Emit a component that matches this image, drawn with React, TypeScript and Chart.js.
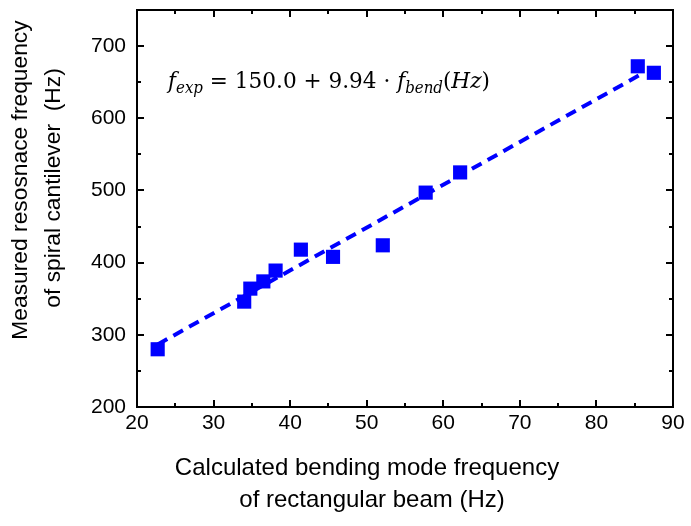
import React, { useEffect, useRef } from 'react';
import { Chart, registerables } from 'chart.js';

Chart.register(...registerables);

// Data
const bendFreq = [22.7, 34.0, 34.8, 36.5, 38.1, 41.4, 45.6, 52.1, 57.7, 62.2, 85.4, 87.5];
const measuredFreq = [280, 346, 364, 374, 389, 418, 408, 424, 497, 525, 672, 663];
const fitX = [22.7, 86.0];
const fitY = [286.7, 662];

const xTicks = [20, 30, 40, 50, 60, 70, 80, 90];
const xMinorTicks = [25, 35, 45, 55, 65, 75, 85];
const yTicks = [200, 300, 400, 500, 600, 700];
const yMinorTicks = [250, 350, 450, 550, 650];

const xTitle = ['Calculated bending mode frequency', 'of rectangular beam (Hz)'];
const yTitle = ['Measured resosnace frequency', 'of spiral cantilever  (Hz)'];

const BLUE = '#0000ff';
const SANS = '"Liberation Sans", Arial, sans-serif';
const SERIF = '"DejaVu Serif", "Liberation Serif", serif';

const decorPlugin = {
  id: 'decor',
  afterDraw(chart: any) {
    const ctx = chart.ctx as CanvasRenderingContext2D;
    const { left, right, top, bottom } = chart.chartArea;
    const xs = chart.scales.x;
    const ys = chart.scales.y;
    ctx.save();
    ctx.strokeStyle = '#000';
    ctx.lineWidth = 2;
    ctx.strokeRect(left, top, right - left, bottom - top);
    const major = 7;
    const minor = 4;
    ctx.beginPath();
    const xt = (vals: number[], len: number) => {
      vals.forEach((v) => {
        const px = Math.round(xs.getPixelForValue(v));
        ctx.moveTo(px, bottom);
        ctx.lineTo(px, bottom - len);
        ctx.moveTo(px, top);
        ctx.lineTo(px, top + len);
      });
    };
    const yt = (vals: number[], len: number) => {
      vals.forEach((v) => {
        const py = Math.round(ys.getPixelForValue(v));
        ctx.moveTo(left, py);
        ctx.lineTo(left + len, py);
        ctx.moveTo(right, py);
        ctx.lineTo(right - len, py);
      });
    };
    xt(xTicks, major);
    xt(xMinorTicks, minor);
    yt(yTicks, major);
    yt(yMinorTicks, minor);
    ctx.stroke();

    // axis titles
    ctx.fillStyle = '#000';
    ctx.textAlign = 'center';
    ctx.textBaseline = 'alphabetic';
    ctx.font = `24px ${SANS}`;
    ctx.fillText(xTitle[0], 367, 475);
    ctx.fillText(xTitle[1], 372, 507);

    ctx.font = `22.8px ${SANS}`;
    ctx.save();
    ctx.translate(27, 180);
    ctx.rotate(-Math.PI / 2);
    ctx.fillText(yTitle[0], 0, 0);
    ctx.restore();
    ctx.save();
    ctx.translate(60, 188);
    ctx.rotate(-Math.PI / 2);
    ctx.fillText(yTitle[1], 0, 0);
    ctx.restore();

    // equation
    const big = 23;
    const small = 16;
    const pieces = [
      { t: 'f', f: `italic ${big}px ${SERIF}`, dy: 0 },
      { t: 'exp', f: `italic ${small}px ${SERIF}`, dy: 5 },
      { t: ' = 150.0 + 9.94 \u00b7 ', f: `${big}px ${SERIF}`, dy: 0 },
      { t: 'f', f: `italic ${big}px ${SERIF}`, dy: 0 },
      { t: 'bend', f: `italic ${small}px ${SERIF}`, dy: 5 },
      { t: '(', f: `${big}px ${SERIF}`, dy: 0 },
      { t: 'Hz', f: `italic ${big}px ${SERIF}`, dy: 0 },
      { t: ')', f: `${big}px ${SERIF}`, dy: 0 },
    ];
    let total = 0;
    const widths = pieces.map((p) => {
      ctx.font = p.f;
      const w = ctx.measureText(p.t).width;
      total += w;
      return w;
    });
    const sx = 322 / total;
    ctx.save();
    ctx.translate(168, 88);
    ctx.scale(sx, 1);
    ctx.textAlign = 'left';
    let cx = 0;
    pieces.forEach((p, i) => {
      ctx.font = p.f;
      ctx.fillText(p.t, cx, p.dy);
      cx += widths[i];
    });
    ctx.restore();
    ctx.restore();
  },
};

export default function App() {
  const ref = useRef<HTMLCanvasElement>(null);
  useEffect(() => {
    if (!ref.current) return;
    const points = bendFreq.map((x, i) => ({ x, y: measuredFreq[i] }));
    const fit = fitX.map((x, i) => ({ x, y: fitY[i] }));
    const chart = new Chart(ref.current, {
      type: 'scatter',
      data: {
        datasets: [
          {
            type: 'line',
            data: fit,
            borderColor: BLUE,
            borderWidth: 4,
            borderDash: [11, 7],
            pointRadius: 0,
            fill: false,
            order: 2,
          } as any,
          {
            data: points,
            pointStyle: 'rect',
            pointRadius: 10,
            pointHoverRadius: 10,
            backgroundColor: BLUE,
            borderWidth: 0,
            order: 1,
          } as any,
        ],
      },
      options: {
        responsive: false,
        animation: false,
        events: [],
        layout: { padding: { top: 10, right: 18, left: 0, bottom: 0 } },
        plugins: { legend: { display: false }, tooltip: { enabled: false } },
        scales: {
          x: {
            type: 'linear',
            position: 'bottom',
            min: 20,
            max: 90,
            grid: { display: false, drawTicks: false },
            border: { display: false },
            ticks: { font: { family: SANS, size: 21 }, color: '#000', padding: 4, maxRotation: 0, autoSkip: false },
            afterBuildTicks: (s: any) => {
              s.ticks = xTicks.map((v) => ({ value: v }));
            },
            afterFit: (s: any) => {
              s.height = 119;
              s.paddingLeft = 0;
              s.paddingRight = 0;
              s.paddingTop = 0;
              s.paddingBottom = 0;
            },
          },
          y: {
            type: 'linear',
            position: 'left',
            min: 200,
            max: 750,
            grid: { display: false, drawTicks: false },
            border: { display: false },
            ticks: { font: { family: SANS, size: 21 }, color: '#000', padding: 11, autoSkip: false },
            afterBuildTicks: (s: any) => {
              s.ticks = yTicks.map((v) => ({ value: v }));
            },
            afterFit: (s: any) => {
              s.width = 137;
              s.paddingLeft = 0;
              s.paddingRight = 0;
              s.paddingTop = 0;
              s.paddingBottom = 0;
            },
          },
        },
      } as any,
      plugins: [decorPlugin],
    });
    return () => chart.destroy();
  }, []);
  return (
    <div style={{ position: 'absolute', left: 0, top: 0, width: 691, height: 526, background: '#fff' }}>
      <canvas ref={ref} width={691} height={526} style={{ display: 'block' }} />
    </div>
  );
}
